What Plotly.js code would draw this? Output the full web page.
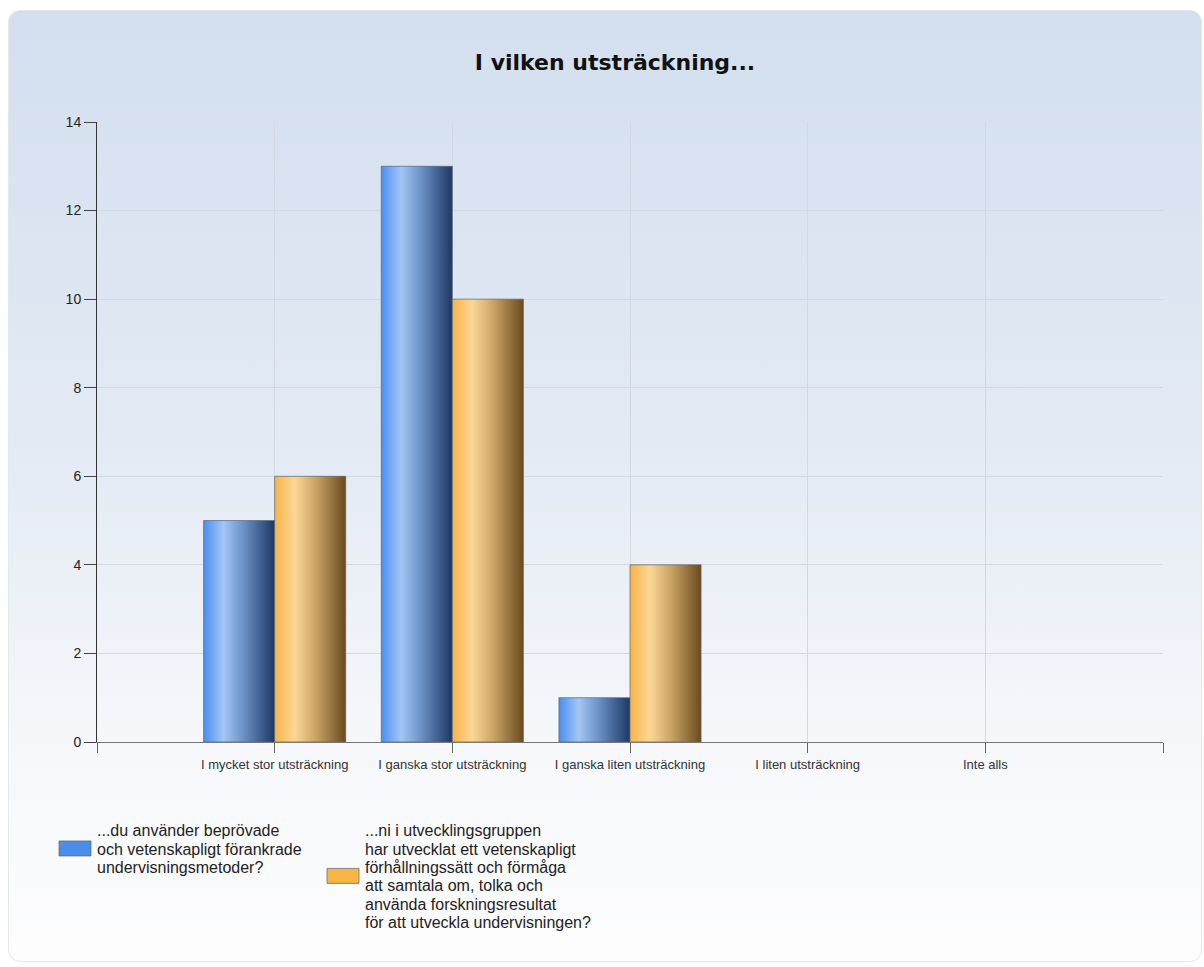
<!DOCTYPE html>
<html>
<head>
<meta charset="utf-8">
<script src="https://cdn.plot.ly/plotly-3.0.1.min.js"></script>
<style>
  html, body { margin: 0; padding: 0; background: #ffffff; }
  #wrap { position: relative; width: 1204px; height: 967px; overflow: hidden; }
  #card {
    position: absolute; left: 8px; top: 10px; width: 1192px; height: 950px;
    border-radius: 12px; border: 1px solid #e3e8ee;
    background: linear-gradient(to bottom, #d3dfef 0%, #e3eaf4 45%, #f6f8fb 78%, #fdfdfe 100%);
  }
  #chart { position: absolute; left: 0; top: 0; width: 1204px; height: 967px; }
</style>
</head>
<body>
<div id="wrap">
  <div id="card"></div>
  <div id="chart"></div>
</div>
<script>
// ---- data ----
const titleText = 'I vilken utsträckning...';
const categories = [
  'I mycket stor utsträckning',
  'I ganska stor utsträckning',
  'I ganska liten utsträckning',
  'I liten utsträckning',
  'Inte alls'
];
const seriesNames = [
  '...du använder beprövade<br>och vetenskapligt förankrade<br>undervisningsmetoder?',
  '...ni i utvecklingsgruppen<br>har utvecklat ett vetenskapligt<br>förhållningssätt och förmåga<br>att samtala om, tolka och<br>använda forskningsresultat<br>för att utveckla undervisningen?'
];
const blueValues = [5, 13, 1, 0, 0];
const orangeValues = [6, 10, 4, 0, 0];
const yTicks = [0, 2, 4, 6, 8, 10, 12, 14];

// ---- chart ----
const xPos = categories.map((c, i) => i);
const tickVals = [-1].concat(xPos).concat([categories.length]);
const tickText = [''].concat(categories).concat(['']);
const edge = 'rgba(90,100,115,0.7)';

const traces = [
  {
    type: 'bar', name: seriesNames[0], x: xPos, y: blueValues,
    marker: { color: '#4a8eea', line: { color: edge, width: blueValues.map(v => v ? 1 : 0) } },
    hoverinfo: 'y'
  },
  {
    type: 'bar', name: seriesNames[1], x: xPos, y: orangeValues,
    marker: { color: '#f8b444', line: { color: edge, width: orangeValues.map(v => v ? 1 : 0) } },
    hoverinfo: 'y'
  }
];

const LEG_FS = 16;
const LEG_SPACING = 18.3;

const layout = {
  width: 1204, height: 967,
  paper_bgcolor: 'rgba(0,0,0,0)',
  plot_bgcolor: 'rgba(0,0,0,0)',
  margin: { l: 97, r: 41, t: 122, b: 225, pad: 0 },
  barmode: 'group', bargap: 0.2, bargroupgap: 0,
  showlegend: true,
  title: {
    text: '<b>' + titleText + '</b>',
    font: { family: 'DejaVu Sans', size: 22, color: '#111111' },
    xref: 'container', x: 615 / 1204, xanchor: 'center',
    yref: 'container', y: 1 - 62 / 967, yanchor: 'middle'
  },
  xaxis: {
    range: [-1, categories.length],
    tickmode: 'array', tickvals: tickVals, ticktext: tickText,
    showgrid: true, gridcolor: '#d3d9e2', gridwidth: 1,
    ticks: 'outside', ticklen: 10, tickcolor: '#666666', tickwidth: 1,
    showline: true, linecolor: '#777777', linewidth: 1,
    zeroline: false,
    tickfont: { family: 'Liberation Sans, Arial, sans-serif', size: 13, color: '#333333' },
    fixedrange: true
  },
  yaxis: {
    range: [0, 14],
    tickmode: 'array', tickvals: yTicks,
    showgrid: true, gridcolor: '#d3d9e2', gridwidth: 1,
    ticks: 'outside', ticklen: 12, tickcolor: '#444444', tickwidth: 1,
    showline: true, linecolor: '#333333', linewidth: 1,
    zeroline: false,
    tickfont: { family: 'Liberation Sans, Arial, sans-serif', size: 14, color: '#222222' },
    fixedrange: true
  },
  legend: {
    orientation: 'h',
    xref: 'container', yref: 'container',
    x: 55 / 1204, xanchor: 'left',
    y: 1 - 814.5 / 967, yanchor: 'top',
    font: { family: 'Liberation Sans, Arial, sans-serif', size: LEG_FS, color: '#222222' },
    bgcolor: 'rgba(0,0,0,0)',
    entrywidth: 223, entrywidthmode: 'pixels',
    valign: 'middle',
    traceorder: 'normal'
  }
};

function decorate() {
  const gd = document.getElementById('chart');
  const svg = gd.querySelector('svg.main-svg');
  if (!svg) return;
  const ns = 'http://www.w3.org/2000/svg';
  let defs = svg.querySelector('defs#barGradDefs');
  if (!defs) {
    defs = document.createElementNS(ns, 'defs');
    defs.setAttribute('id', 'barGradDefs');
    svg.insertBefore(defs, svg.firstChild);
    const grads = {
      gradBlue: [['0%', '#4a8ff0'], ['28%', '#a3c6f5'], ['55%', '#6d93c8'], ['100%', '#1d3765']],
      gradOrange: [['0%', '#f8b447'], ['28%', '#fbd796'], ['55%', '#d0a96a'], ['100%', '#6a4b1f']]
    };
    Object.keys(grads).forEach(function (id) {
      const lg = document.createElementNS(ns, 'linearGradient');
      lg.setAttribute('id', id);
      lg.setAttribute('x1', '0'); lg.setAttribute('y1', '0');
      lg.setAttribute('x2', '1'); lg.setAttribute('y2', '0');
      grads[id].forEach(function (s) {
        const st = document.createElementNS(ns, 'stop');
        st.setAttribute('offset', s[0]);
        st.setAttribute('stop-color', s[1]);
        lg.appendChild(st);
      });
      defs.appendChild(lg);
    });
  }
  const ids = ['gradBlue', 'gradOrange'];
  gd.querySelectorAll('.barlayer .trace').forEach(function (t, i) {
    t.querySelectorAll('.point path').forEach(function (p) {
      p.style.fill = 'url(#' + ids[i] + ')';
    });
  });
  // larger legend swatches
  gd.querySelectorAll('.legend .legendpoints path').forEach(function (p) {
    p.setAttribute('d', 'M16,7.5H-16V-7.5H16Z');
  });
  // tighter legend line spacing, tops kept aligned
  const oldLH = 1.3 * LEG_FS;
  gd.querySelectorAll('.legend .traces').forEach(function (tr) {
    if (tr.getAttribute('data-adj')) return;
    const txt = tr.querySelector('text.legendtext');
    if (!txt) return;
    const lines = txt.querySelectorAll('tspan.line');
    const n = lines.length || 1;
    const y0 = -LEG_SPACING * (n - 1) / 2 + 0.3 * oldLH;
    const tx = 42;
    txt.setAttribute('x', tx);
    txt.setAttribute('y', y0);
    lines.forEach(function (t, i) {
      t.setAttribute('x', tx);
      t.setAttribute('y', y0);
      t.setAttribute('dy', (i * LEG_SPACING / LEG_FS) + 'em');
    });
    const m = /translate\(\s*([-\d.e]+)[\s,]+([-\d.e]+)\s*\)/.exec(tr.getAttribute('transform') || '');
    if (m) {
      const x = +m[1], y = +m[2];
      const top = y - n * oldLH / 2;
      tr.setAttribute('transform', 'translate(' + x + ',' + (top + n * LEG_SPACING / 2) + ')');
    }
    tr.setAttribute('data-adj', '1');
  });
}

Plotly.newPlot('chart', traces, layout, { displayModeBar: false, staticPlot: true }).then(function (gd) {
  decorate();
  gd.on('plotly_afterplot', decorate);
});
</script>
</body>
</html>
